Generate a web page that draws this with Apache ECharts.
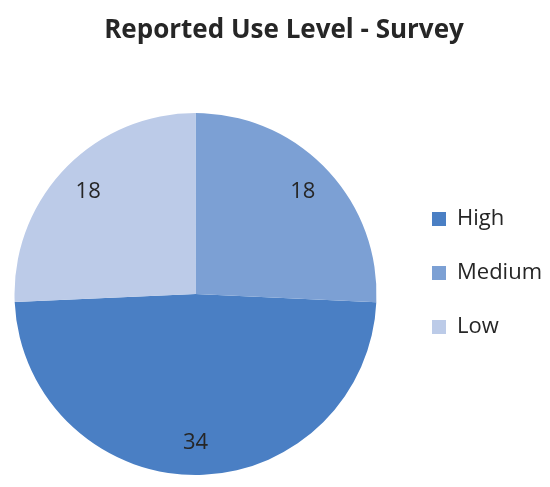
<!DOCTYPE html>
<html><head><meta charset="utf-8">
<script src="https://cdn.jsdelivr.net/npm/echarts@6/dist/echarts.min.js"></script>
<style>html,body{margin:0;padding:0;background:#fff}#c{width:550px;height:487px}</style>
</head><body><div id="c"></div>
<script>
const categories = ['High', 'Medium', 'Low'];
const values = [34, 18, 18];
const colors = ['#4a7fc4', '#7ca0d4', '#bccbe8'];
const titleText = 'Reported Use Level - Survey';

const data = categories.map((n, i) => ({ name: n, value: values[i], itemStyle: { color: colors[i] } }));
const chart = echarts.init(document.getElementById('c'), null, { renderer: 'canvas' });
chart.setOption({
  animation: false,
  title: { text: titleText, left: 279, top: 13, textAlign: 'center',
    textStyle: { fontFamily: 'Open Sans', fontWeight: 'bold', fontSize: 26, color: '#262626' } },
  legend: { orient: 'vertical', left: 427, top: 203, itemWidth: 14, itemHeight: 14, itemGap: 32,
    icon: 'rect', data: categories,
    textStyle: { fontFamily: 'Open Sans', fontSize: 22, color: '#262626', padding: [0, 0, 0, 6] } },
  series: [
    { type: 'pie', center: [195.5, 294], radius: [0, 181], startAngle: 180 + 2.57, clockwise: false,
      data: data, label: { show: false }, labelLine: { show: false }, silent: true },
    { type: 'pie', center: [195.5, 294], radius: [110, 181], startAngle: 180 + 2.57, clockwise: false,
      data: data.map(d => ({ name: d.name, value: d.value })), itemStyle: { color: 'transparent' },
      legendHoverLink: false, silent: true,
      label: { show: true, position: 'inside', formatter: '{c}', fontFamily: 'Open Sans', fontSize: 22, color: '#262626' },
      labelLine: { show: false } }
  ]
});
</script></body></html>
